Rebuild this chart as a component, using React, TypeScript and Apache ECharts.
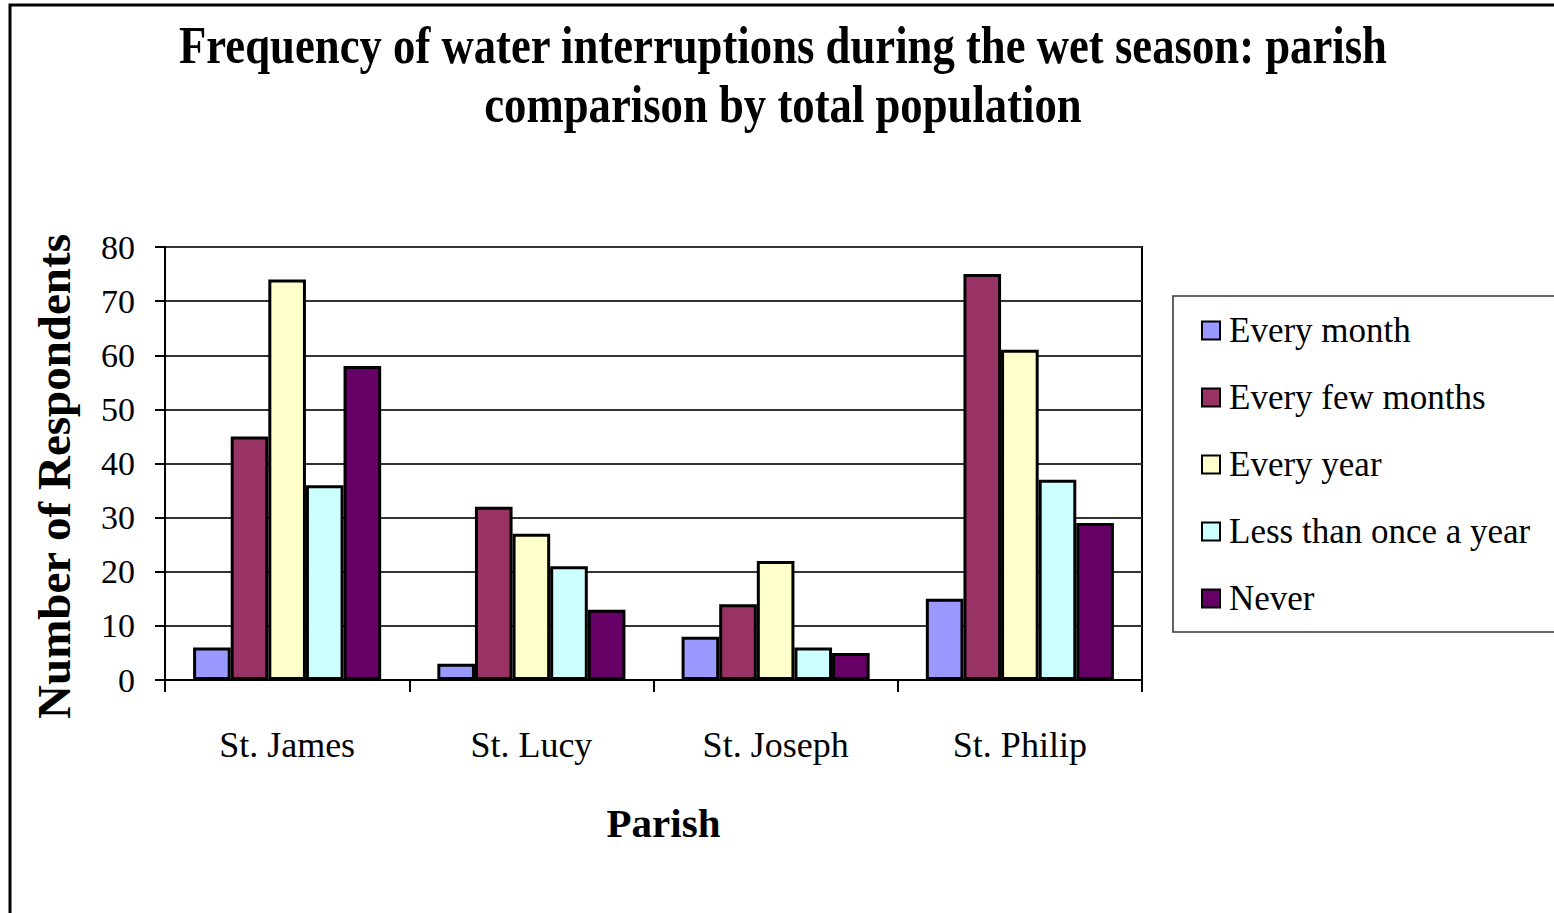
import React, { useEffect, useRef } from "react";
import * as echarts from "echarts";

const parishes = ["St. James", "St. Lucy", "St. Joseph", "St. Philip"];
const seriesNames = ["Every month", "Every few months", "Every year", "Less than once a year", "Never"];
const everyMonth = [6, 3, 8, 15];
const everyFewMonths = [45, 32, 14, 75];
const everyYear = [74, 27, 22, 61];
const lessThanOnceAYear = [36, 21, 6, 37];
const never = [58, 13, 5, 29];
const seriesColors = ["#9999FF", "#993366", "#FFFFCC", "#CCFFFF", "#660066"];
const titleLines = ["Frequency of water interruptions during the wet season: parish", "comparison by total population"];

const SERIF = "'Liberation Serif', 'DejaVu Serif', serif";

export default function App() {
  const ref = useRef<HTMLDivElement>(null);
  useEffect(() => {
    if (!ref.current) return;
    const chart = echarts.init(ref.current, null, { renderer: "svg" });
    const values = [everyMonth, everyFewMonths, everyYear, lessThanOnceAYear, never];
    chart.setOption({
      animation: false,
      backgroundColor: "#fff",
      textStyle: { fontFamily: SERIF },
      graphic: [
        {
          type: "rect",
          shape: { x: 10, y: 5, width: 1570, height: 930 },
          style: { fill: "none", stroke: "#000", lineWidth: 3 },
          silent: true,
        },
        {
          type: "text",
          x: 783,
          y: 45,
          scaleX: 0.86,
          style: {
            text: titleLines[0],
            font: `bold 52px ${SERIF}`,
            fill: "#000",
            textAlign: "center",
            textVerticalAlign: "middle",
          },
        },
        {
          type: "text",
          x: 783,
          y: 104,
          scaleX: 0.86,
          style: {
            text: titleLines[1],
            font: `bold 52px ${SERIF}`,
            fill: "#000",
            textAlign: "center",
            textVerticalAlign: "middle",
          },
        },
      ],
      grid: {
        left: 165,
        top: 247,
        width: 977,
        height: 433,
        show: true,
        borderColor: "#000",
        borderWidth: 2,
        backgroundColor: "#fff",
        containLabel: false,
      },
      legend: {
        orient: "vertical",
        left: 1173,
        top: 296,
        padding: [17, 40, 16, 28],
        itemWidth: 18,
        itemHeight: 18,
        itemGap: 32,
        icon: "rect",
        borderColor: "#333",
        borderWidth: 1.5,
        itemStyle: { borderColor: "#000", borderWidth: 2 },
        textStyle: {
          fontFamily: SERIF,
          fontSize: 35,
          lineHeight: 35,
          color: "#000",
          padding: [0, 0, 0, 4],
        },
        data: seriesNames,
      },
      xAxis: {
        type: "category",
        data: parishes,
        name: "Parish",
        nameLocation: "middle",
        nameGap: 122,
        nameTextStyle: {
          fontFamily: SERIF,
          fontSize: 41,
          fontWeight: "bold",
          color: "#000",
          padding: [0, 0, 0, 20],
        },
        axisLine: { show: true, lineStyle: { color: "#000", width: 2 } },
        axisTick: { show: true, interval: 0, length: 12, lineStyle: { color: "#000", width: 2 } },
        axisLabel: { fontFamily: SERIF, fontSize: 36, color: "#000", margin: 47, interval: 0 },
      },
      yAxis: {
        type: "value",
        min: 0,
        max: 80,
        interval: 10,
        name: "Number of Respondents",
        nameLocation: "middle",
        nameRotate: 90,
        nameGap: 88,
        nameTextStyle: {
          fontFamily: SERIF,
          fontSize: 47,
          fontWeight: "bold",
          color: "#000",
          padding: [0, 26, 0, 0],
        },
        axisLine: { show: true, lineStyle: { color: "#000", width: 2 } },
        axisTick: { show: true, length: 10, lineStyle: { color: "#000", width: 2 } },
        axisLabel: { fontFamily: SERIF, fontSize: 34, color: "#000", margin: 30 },
        splitLine: { show: true, lineStyle: { color: "#333", width: 2 } },
      },
      series: seriesNames.map((name, i) => ({
        name,
        type: "bar",
        data: values[i],
        barGap: "0%",
        barCategoryGap: "23%",
        itemStyle: { color: seriesColors[i], borderColor: "#000", borderWidth: 3 },
      })),
    });
    return () => chart.dispose();
  }, []);
  return (
    <div
      ref={ref}
      style={{ position: "fixed", left: 0, top: 0, width: 1554, height: 913, background: "#fff" }}
    />
  );
}
